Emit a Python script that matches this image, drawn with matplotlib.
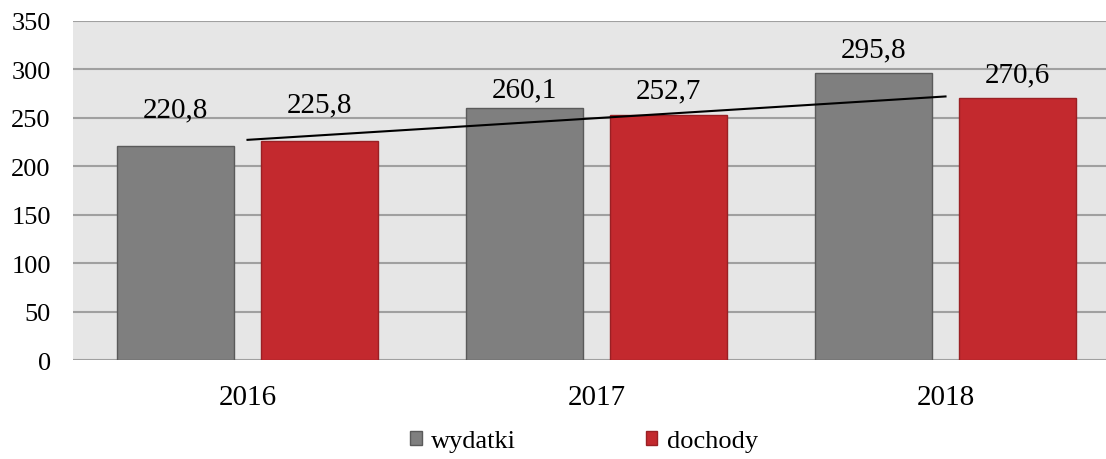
import matplotlib.pyplot as plt
import numpy as np

plt.rcParams['font.family'] = ['Liberation Serif', 'DejaVu Serif']

years = ['2016', '2017', '2018']
wydatki = [220.8, 260.1, 295.8]
dochody = [225.8, 252.7, 270.6]

x = np.arange(len(years))
w = 0.335
off = 0.207

# gap (points) between bar top and label baseline, as placed in the original
gap_w = [21.5, 8.6, 12.2]
gap_d = [21.5, 13.0, 12.2]

fig = plt.figure(figsize=(11.06, 4.6), dpi=100)
ax = fig.add_axes([73 / 1106, 1 - 361 / 460, 1047 / 1106, 339 / 460])
ax.set_facecolor('#e6e6e6')

b1 = ax.bar(x - off, wydatki, w, color='#7f7f7f', edgecolor='#5a5a5a', linewidth=1, label='wydatki', zorder=3)
b2 = ax.bar(x + off, dochody, w, color='#c3292e', edgecolor='#9a2024', linewidth=1, label='dochody', zorder=3)

for bars, vals, gaps in [(b1, wydatki, gap_w), (b2, dochody, gap_d)]:
    for r, v, g in zip(bars, vals, gaps):
        ax.annotate(f'{v:.1f}'.replace('.', ','), (r.get_x() + r.get_width() / 2, v),
                    xytext=(0, g), textcoords='offset points', ha='center', va='baseline',
                    fontsize=21, zorder=5)

# linear trend of dochody
k, b = np.polyfit(x, dochody, 1)
ax.plot(x, k * x + b, color='black', linewidth=1.5, zorder=4)

ax.set_xlim(-0.5, 2.5)
ax.set_ylim(0, 350)
ax.set_yticks(range(0, 351, 50))
ax.set_xticks(x)
ax.set_xticklabels(years)
ax.grid(axis='y', color='#a0a0a0', linewidth=1.5, zorder=1)
for s in ax.spines.values():
    s.set_visible(False)
ax.tick_params(length=0)
ax.tick_params(axis='x', pad=17, labelsize=21)
ax.tick_params(axis='y', pad=16, labelsize=19)

fig.legend(handles=[b1, b2], loc='center', bbox_to_anchor=(584 / 1106, 1 - 442 / 460), ncol=2,
           frameon=False, fontsize=19, handlelength=0.45, handleheight=0.45,
           handletextpad=0.35, columnspacing=4.9)

fig.savefig('out.png', dpi=100)
